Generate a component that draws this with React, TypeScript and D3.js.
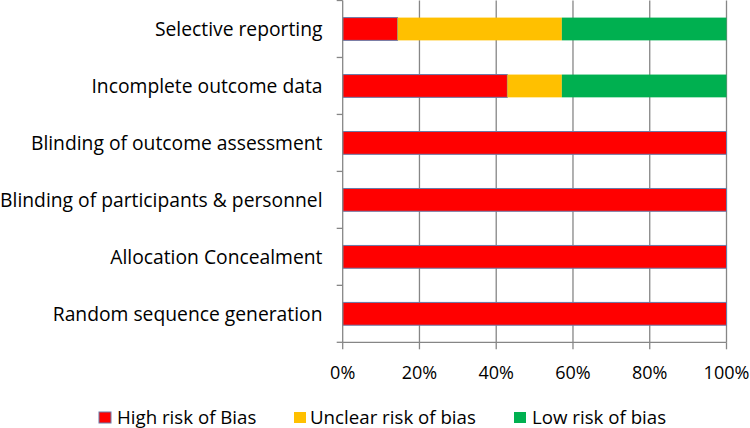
import React from "react";
import * as d3 from "d3";

const categories = [
  "Selective reporting",
  "Incomplete outcome data",
  "Blinding of outcome assessment",
  "Blinding of participants & personnel",
  "Allocation Concealment",
  "Random sequence generation",
];
const highRisk = [14.3, 42.9, 100, 100, 100, 100];
const unclearRisk = [42.8, 14.2, 0, 0, 0, 0];
const lowRisk = [42.9, 42.9, 0, 0, 0, 0];
const seriesNames = ["High risk of Bias", "Unclear risk of bias", "Low risk of bias"];
const seriesKeys = ["high", "unclear", "low"];
const seriesColors = ["#ff0000", "#ffc000", "#00b050"];
const xTicks = [0, 20, 40, 60, 80, 100];

const W = 750;
const H = 428;
const left = 342.7;
const right = 726.5;
const top = 0.5;
const bottom = 342.3;
const font = "'Open Sans', Lato, sans-serif";

export default function App() {
  const rows = categories.map((c, i) => ({
    cat: c,
    high: highRisk[i],
    unclear: unclearRisk[i],
    low: lowRisk[i],
  }));
  const stack = d3.stack<any>().keys(seriesKeys);
  const layers = stack(rows);

  const x = d3.scaleLinear().domain([0, 100]).range([left, right]);
  const y = d3
    .scaleBand<string>()
    .domain(categories)
    .range([top, bottom])
    .paddingInner(0.6)
    .paddingOuter(0.3);
  const step = (bottom - top) / categories.length;
  const boundaries = d3.range(categories.length + 1).map((i) => top + i * step);

  const legendItems = [
    { sx: 99, tx: 117 },
    { sx: 294, tx: 310 },
    { sx: 514, tx: 532 },
  ];

  return (
    <svg
      width={W}
      height={H}
      style={{ position: "absolute", left: 0, top: 0, background: "#fff" }}
    >
      {/* gridlines */}
      {xTicks.slice(1).map((t) => (
        <line
          key={"g" + t}
          x1={x(t)}
          x2={x(t)}
          y1={top}
          y2={bottom}
          stroke="#868686"
          strokeWidth={1.3}
        />
      ))}
      {/* bars */}
      {layers.map((layer, li) =>
        layer.map((d, i) => {
          const w = x(d[1]) - x(d[0]);
          if (w <= 0.01) return null;
          return (
            <rect
              key={li + "-" + i}
              x={x(d[0])}
              y={y(categories[i])}
              width={w}
              height={y.bandwidth()}
              fill={seriesColors[li]}
              stroke={li === 0 ? "#6a7aa8" : "none"}
              strokeWidth={li === 0 ? 1 : 0}
            />
          );
        })
      )}
      {/* y axis */}
      <line x1={left} x2={left} y1={top} y2={bottom} stroke="#868686" strokeWidth={1.3} />
      {boundaries.map((b, i) => (
        <line key={"yt" + i} x1={left - 6} x2={left} y1={b} y2={b} stroke="#868686" strokeWidth={1.3} />
      ))}
      {/* x axis */}
      <line x1={left} x2={right} y1={bottom} y2={bottom} stroke="#868686" strokeWidth={1.3} />
      {xTicks.map((t) => (
        <line key={"xt" + t} x1={x(t)} x2={x(t)} y1={bottom} y2={bottom + 7} stroke="#868686" strokeWidth={1.3} />
      ))}
      {xTicks.map((t) => (
        <text
          key={"xl" + t}
          x={x(t)}
          y={372}
          textAnchor="middle"
          dominantBaseline="central"
          fontFamily={font}
          fontSize={18}
          fill="#000"
        >
          {t + "%"}
        </text>
      ))}
      {/* category labels */}
      {categories.map((c) => (
        <text
          key={"cl" + c}
          x={322.5}
          y={(y(c) as number) + y.bandwidth() / 2}
          textAnchor="end"
          dominantBaseline="central"
          fontFamily={font}
          fontSize={19.3}
          fill="#000"
        >
          {c}
        </text>
      ))}
      {/* legend */}
      {seriesNames.map((n, i) => (
        <g key={"lg" + n}>
          <rect
            x={legendItems[i].sx}
            y={412}
            width={12}
            height={11}
            fill={seriesColors[i]}
            stroke={i === 0 ? "#6a7aa8" : "none"}
          />
          <text
            x={legendItems[i].tx}
            y={424}
            fontFamily={font}
            fontSize={18.7}
            fill="#000"
          >
            {n}
          </text>
        </g>
      ))}
    </svg>
  );
}
